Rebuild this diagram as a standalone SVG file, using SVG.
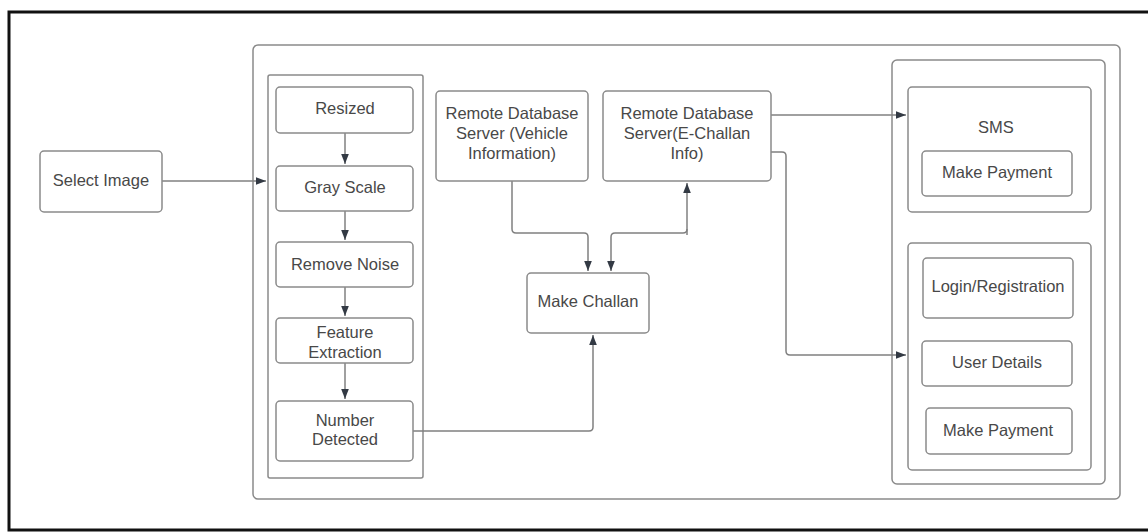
<svg xmlns="http://www.w3.org/2000/svg" width="1148" height="532" viewBox="0 0 1148 532">
<style>
.box{fill:#fff;stroke:#8a8a8a;stroke-width:1.5}
.grp{fill:none;stroke:#8a8a8a;stroke-width:1.5}
.t{font-family:"Liberation Sans",Arial,sans-serif;font-size:16.5px;fill:#484848;text-anchor:middle;dominant-baseline:central}
.c{fill:none;stroke:#808080;stroke-width:1.5}
</style>
<defs>
<marker id="ah" viewBox="0 0 10 10" refX="10" refY="5" markerWidth="11" markerHeight="10" markerUnits="userSpaceOnUse" orient="auto">
<path d="M0,1.2 L10,5 L0,8.8 z" fill="#333a44"/>
</marker>
</defs>
<rect width="1148" height="532" fill="#fff"/>
<rect x="9" y="12" width="1150" height="518" fill="none" stroke="#111" stroke-width="3"/>
<g id="containers">
<rect class="grp" x="253" y="45" width="867" height="454" rx="5"/>
<rect class="grp" x="268" y="75" width="155" height="403" rx="2"/>
<rect class="grp" x="892" y="60" width="213" height="424" rx="5"/>
</g>
<g id="connectors">
<path class="c" d="M162,181 H266" marker-end="url(#ah)"/>
<path class="c" d="M345,133 V164" marker-end="url(#ah)"/>
<path class="c" d="M345,211 V240" marker-end="url(#ah)"/>
<path class="c" d="M345,287 V316" marker-end="url(#ah)"/>
<path class="c" d="M345,363 V399" marker-end="url(#ah)"/>
<path class="c" d="M512,181 V229 Q512,233 516,233 H584 Q588,233 588,237 V271" marker-end="url(#ah)"/>
<path class="c" d="M687,235 V183" marker-end="url(#ah)"/>
<path class="c" d="M687,229 Q687,233 683,233 H615 Q611,233 611,237 V271" marker-end="url(#ah)"/>
<path class="c" d="M413,431 H589 Q593,431 593,427 V335" marker-end="url(#ah)"/>
<path class="c" d="M771,115 H906" marker-end="url(#ah)"/>
<path class="c" d="M771,152 H782 Q786,152 786,156 V351 Q786,355 790,355 H906" marker-end="url(#ah)"/>
</g>
<g id="select-image"><rect class="box" x="40" y="151" width="122" height="61" rx="4"/><text class="t" x="101" y="180">Select Image</text></g>
<g id="resized"><rect class="box" x="276" y="87" width="137" height="46" rx="4"/><text class="t" x="345" y="108">Resized</text></g>
<g id="gray-scale"><rect class="box" x="276" y="166" width="137" height="45" rx="4"/><text class="t" x="345" y="187">Gray Scale</text></g>
<g id="remove-noise"><rect class="box" x="276" y="242" width="137" height="45" rx="4"/><text class="t" x="345" y="264">Remove Noise</text></g>
<g id="feature-extraction"><rect class="box" x="276" y="318" width="137" height="45" rx="4"/><text class="t" x="345" y="332">Feature</text><text class="t" x="345" y="352">Extraction</text></g>
<g id="number-detected"><rect class="box" x="276" y="401" width="137" height="60" rx="4"/><text class="t" x="345" y="420">Number</text><text class="t" x="345" y="439">Detected</text></g>
<g id="remote-db-vehicle"><rect class="box" x="436" y="91" width="152" height="90" rx="4"/><text class="t" x="512" y="113">Remote Database</text><text class="t" x="512" y="133">Server (Vehicle</text><text class="t" x="512" y="153">Information)</text></g>
<g id="remote-db-echallan"><rect class="box" x="603" y="91" width="168" height="90" rx="4"/><text class="t" x="687" y="113">Remote Database</text><text class="t" x="687" y="133">Server(E-Challan</text><text class="t" x="687" y="153">Info)</text></g>
<g id="make-challan"><rect class="box" x="527" y="273" width="122" height="60" rx="4"/><text class="t" x="588" y="301">Make Challan</text></g>
<g id="sms"><rect class="box" x="908" y="87" width="183" height="125" rx="4"/><text class="t" x="996" y="127">SMS</text></g>
<g id="sms-make-payment"><rect class="box" x="922" y="151" width="150" height="45" rx="4"/><text class="t" x="997" y="172">Make Payment</text></g>
<g id="app"><rect class="box" x="908" y="243" width="183" height="227" rx="4"/></g>
<g id="login-registration"><rect class="box" x="923" y="258" width="150" height="60" rx="4"/><text class="t" x="998" y="286">Login/Registration</text></g>
<g id="user-details"><rect class="box" x="922" y="341" width="150" height="45" rx="4"/><text class="t" x="997" y="362">User Details</text></g>
<g id="app-make-payment"><rect class="box" x="926" y="408" width="146" height="46" rx="4"/><text class="t" x="998" y="430">Make Payment</text></g>
</svg>
